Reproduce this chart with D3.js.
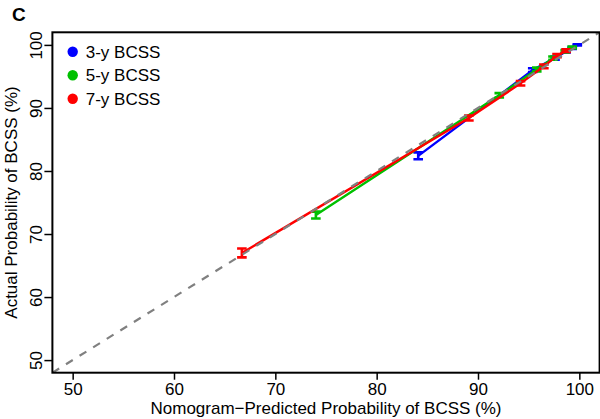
<!DOCTYPE html>
<html>
<head>
<meta charset="utf-8">
<script src="https://cdn.jsdelivr.net/npm/d3@7"></script>
<style>
  body { margin: 0; background: #fff; }
  text { font-family: "Liberation Sans", Arial, sans-serif; }
</style>
</head>
<body>
<svg id="svg" width="600" height="419"></svg>
<script>
// calibration groups, predicted vs observed (%)
var series = ["3-y BCSS", "5-y BCSS", "7-y BCSS"],
  colors = ["#0000ff", "#00c000", "#ff0000"];

var pred3 = [84.1, 95.4, 97.6, 98.7, 99.3, 99.8],
  obs3 = [82.4, 96.0, 97.9, 99.0, 99.5, 100.0],
  err3 = [0.55, 0.3, 0.25, 0.2, 0.15, 0.1];

var pred5 = [74.0, 92.1, 95.8, 97.4, 98.6, 99.3],
  obs5 = [73.0, 92.0, 96.1, 97.9, 99.0, 99.6],
  err5 = [0.55, 0.35, 0.3, 0.25, 0.2, 0.15];

var pred7 = [66.7, 89.1, 94.2, 96.5, 97.8, 98.7],
  obs7 = [67.0, 88.4, 93.9, 96.6, 98.3, 99.1],
  err7 = [0.7, 0.4, 0.35, 0.3, 0.25, 0.2];

var xTicks = [50, 60, 70, 80, 90, 100],
  yTicks = [50, 60, 70, 80, 90, 100];

var svg = d3.select("#svg"),
  margin = { top: 32.3, right: 0.4, bottom: 46.3, left: 52.4 },
  width = +svg.attr("width") - margin.left - margin.right,
  height = +svg.attr("height") - margin.top - margin.bottom;

var xScale = d3.scaleLinear().domain([48, 102]).range([margin.left, margin.left + width]);
var yScale = d3.scaleLinear().domain([48, 102]).range([margin.top + height, margin.top]);

svg.append("clipPath").attr("id", "plotclip")
  .append("rect")
  .attr("x", margin.left).attr("y", margin.top)
  .attr("width", width).attr("height", height);

var plot = svg.append("g").attr("clip-path", "url(#plotclip)");

var data = [
  { pred: pred3, obs: obs3, err: err3 },
  { pred: pred5, obs: obs5, err: err5 },
  { pred: pred7, obs: obs7, err: err7 }
];

var lineGenerator = d3.line()
  .x(function (d) { return xScale(d[0]); })
  .y(function (d) { return yScale(d[1]); });

data.forEach(function (s, k) {
  var pts = s.pred.map(function (p, i) { return [p, s.obs[i], s.err[i]]; });
  plot.append("path")
    .attr("d", lineGenerator(pts))
    .attr("fill", "none")
    .attr("stroke", colors[k])
    .attr("stroke-width", 2.4);

  var bars = plot.append("g").selectAll("g").data(pts).enter().append("g")
    .attr("stroke", colors[k])
    .attr("stroke-width", 2.6);
  bars.append("line")
    .attr("x1", function (d) { return xScale(d[0]); })
    .attr("x2", function (d) { return xScale(d[0]); })
    .attr("y1", function (d) { return yScale(d[1] - d[2]); })
    .attr("y2", function (d) { return yScale(d[1] + d[2]); });
  [-1, 1].forEach(function (sgn) {
    bars.append("line")
      .attr("x1", function (d) { return xScale(d[0]) - 4.8; })
      .attr("x2", function (d) { return xScale(d[0]) + 4.8; })
      .attr("y1", function (d) { return yScale(d[1] + sgn * d[2]); })
      .attr("y2", function (d) { return yScale(d[1] + sgn * d[2]); });
  });
});

// ideal line
plot.append("line")
  .attr("x1", xScale(48)).attr("y1", yScale(48))
  .attr("x2", xScale(102)).attr("y2", yScale(102))
  .attr("stroke", "#808080")
  .attr("stroke-width", 2.2)
  .attr("stroke-dasharray", "8,8");

// frame
svg.append("rect")
  .attr("x", margin.left).attr("y", margin.top)
  .attr("width", width).attr("height", height)
  .attr("fill", "none")
  .attr("stroke", "black")
  .attr("stroke-width", 2);

// x axis
var gx = svg.append("g")
  .attr("class", "axis xAxis")
  .attr("transform", "translate(0," + (margin.top + height) + ")")
  .call(d3.axisBottom(xScale).tickValues(xTicks).tickSize(7).tickPadding(3));
gx.select(".domain").remove();
gx.selectAll("line").attr("stroke", "black").attr("stroke-width", 1.5);
gx.selectAll("text")
  .attr("fill", "black")
  .style("font-size", "17px")
  .style("font-family", "Liberation Sans, Arial, sans-serif");

// y axis
var gy = svg.append("g")
  .attr("class", "axis yAxis")
  .attr("transform", "translate(" + margin.left + ",0)")
  .call(d3.axisLeft(yScale).tickValues(yTicks).tickSize(8));
gy.select(".domain").remove();
gy.selectAll("line").attr("stroke", "black").attr("stroke-width", 1.5);
gy.selectAll("text")
  .attr("fill", "black")
  .attr("x", 0).attr("dy", 0)
  .attr("transform", "translate(-10,0) rotate(-90)")
  .style("text-anchor", "middle")
  .style("font-size", "17px")
  .style("font-family", "Liberation Sans, Arial, sans-serif");

// titles
svg.append("text")
  .attr("x", margin.left + width / 2)
  .attr("y", 414)
  .attr("text-anchor", "middle")
  .style("font-size", "17px")
  .text("Nomogram\u2212Predicted Probability of BCSS (%)");

svg.append("text")
  .attr("transform", "translate(17," + (margin.top + height / 2) + ") rotate(-90)")
  .attr("text-anchor", "middle")
  .style("font-size", "17px")
  .text("Actual Probability of BCSS (%)");

svg.append("text")
  .attr("x", 12).attr("y", 20.5)
  .style("font-size", "19px")
  .style("font-weight", "bold")
  .text("C");

// legend
var legend = svg.append("g").selectAll("g").data(series).enter().append("g")
  .attr("transform", function (d, i) { return "translate(72.7," + (51.7 + i * 23.5) + ")"; });
legend.append("circle").attr("r", 5.2).attr("fill", function (d, i) { return colors[i]; });
legend.append("text")
  .attr("x", 13).attr("y", 6)
  .style("font-size", "17px")
  .text(function (d) { return d; });
</script>
</body>
</html>
